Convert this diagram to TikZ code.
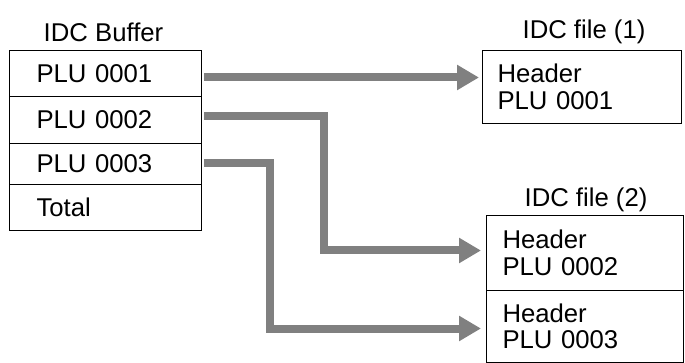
\documentclass[tikz,border=0pt]{standalone}
\usepackage{fontspec}
\setmainfont{Liberation Sans}
\usetikzlibrary{arrows.meta,calc}
\begin{document}
\begin{tikzpicture}[x=1pt,y=-1pt,
  every node/.style={font=\fontsize{25.7}{26.5}\selectfont},
  rowbox/.style={draw=black, line width=1pt, anchor=north west, inner ysep=0pt,
    minimum width=192pt, inner xsep=27pt, text width=138pt, align=left},
  filebox/.style={draw=black, line width=1pt, anchor=north west, inner ysep=0pt, align=left},
  title/.style={anchor=base, inner sep=0pt},
  arr/.style={draw=gray, line width=8pt, line join=miter,
    -{Triangle[length=22pt,width=24pt]}}
]
\useasboundingbox (0,0) rectangle (685,363);
% titles
\node[title] (t0) at (103.5,42) {IDC Buffer};
\node[title] (t1) at (584,39) {IDC file (1)};
\node[title] (t2) at (586,207) {IDC file (2)};
% buffer rows
\node[rowbox, minimum height=46pt] (buf1) at (9,50) {PLU 0001};
\node[rowbox, minimum height=47pt] (buf2) at (9,96) {PLU 0002};
\node[rowbox, minimum height=41pt] (buf3) at (9,143) {PLU 0003};
\node[rowbox, minimum height=46pt] (buf4) at (9,184) {Total};
% files
\node[filebox, minimum width=199pt, minimum height=73pt, inner xsep=15pt, text width=169pt] (f1) at (482,50) {Header\\PLU 0001};
\node[filebox, minimum width=197pt, minimum height=75pt, inner xsep=16pt, text width=165pt] (f2a) at (486,215) {Header\\PLU 0002};
\node[filebox, minimum width=197pt, minimum height=72pt, inner xsep=16pt, text width=165pt] (f2b) at (486,290) {Header\\PLU 0003};
% connector ends
\coordinate (a1) at ($(buf1.east)+(2,4)$);
\coordinate (a2) at ($(buf2.east)+(2,-3.5)$);
\coordinate (a3) at ($(buf3.east)+(2,-1)$);
\coordinate (e1) at ($(f1.west)+(-3,0)$);
\coordinate (e2) at ($(f2a.west)+(-5,-2.5)$);
\coordinate (e3) at ($(f2b.west)+(-5,2)$);
% connectors
\draw[arr] (a1) -- (a1 -| e1);
\draw[arr] (a2) -- ++(119.5,0) |- (e2);
\draw[arr] (a3) -- ++(66,0) |- (e3);
\end{tikzpicture}
\end{document}
